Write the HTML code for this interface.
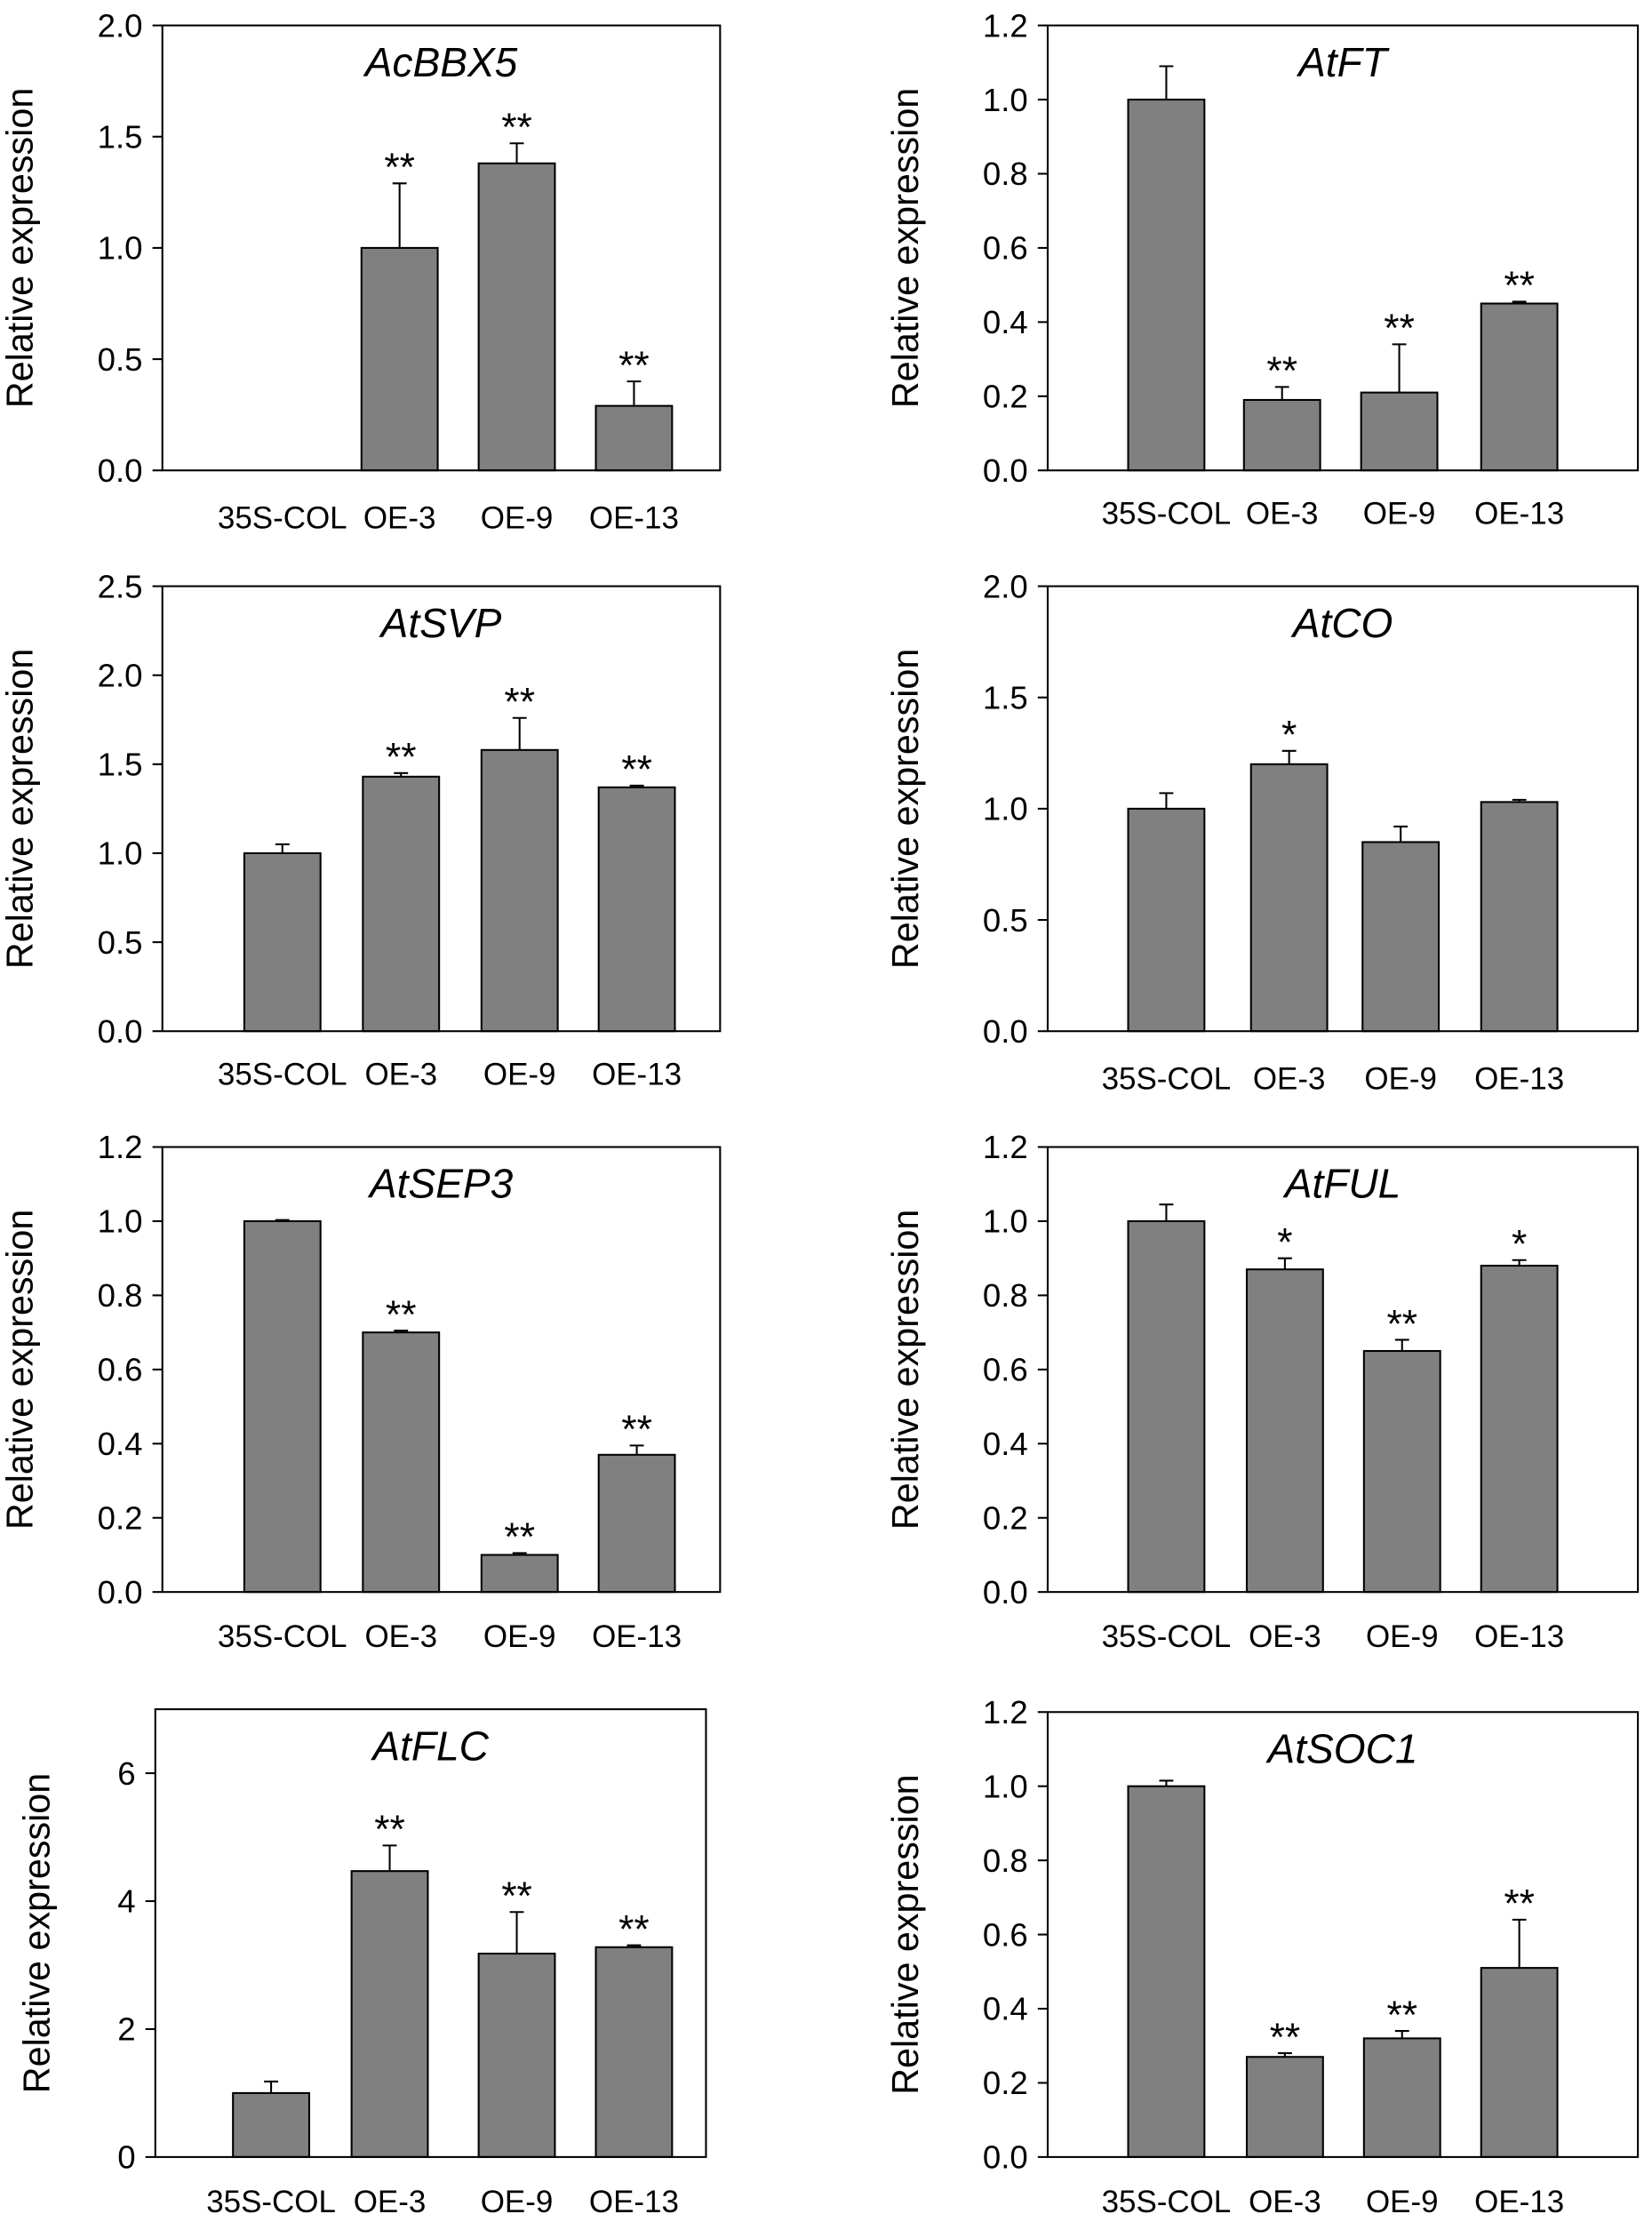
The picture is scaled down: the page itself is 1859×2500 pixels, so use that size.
<!DOCTYPE html>
<html><head><meta charset="utf-8">
<style>
html,body{margin:0;padding:0;background:#fff;}
svg{display:block;font-family:"Liberation Sans",Arial,sans-serif;}
</style></head>
<body>
<svg id="fig" width="1859" height="2500" viewBox="0 0 1170 1573" preserveAspectRatio="none" xmlns="http://www.w3.org/2000/svg"></svg>
<script>
const categories = ['35S-COL','OE-3','OE-9','OE-13'];
const titles = ['AcBBX5','AtFT','AtSVP','AtCO','AtSEP3','AtFUL','AtFLC','AtSOC1'];
const valsAcBBX5 = [0, 1.0, 1.38, 0.29];
const errAcBBX5 = [0, 0.29, 0.09, 0.11];
const starAcBBX5 = ['', '**', '**', '**'];
const valsAtFT = [1.0, 0.19, 0.21, 0.45];
const errAtFT = [0.09, 0.035, 0.13, 0.005];
const starAtFT = ['', '**', '**', '**'];
const valsAtSVP = [1.0, 1.43, 1.58, 1.37];
const errAtSVP = [0.05, 0.02, 0.18, 0.01];
const starAtSVP = ['', '**', '**', '**'];
const valsAtCO = [1.0, 1.2, 0.85, 1.03];
const errAtCO = [0.07, 0.06, 0.07, 0.01];
const starAtCO = ['', '*', '', ''];
const valsAtSEP3 = [1.0, 0.70, 0.10, 0.37];
const errAtSEP3 = [0.003, 0.005, 0.005, 0.025];
const starAtSEP3 = ['', '**', '**', '**'];
const valsAtFUL = [1.0, 0.87, 0.65, 0.88];
const errAtFUL = [0.045, 0.03, 0.03, 0.015];
const starAtFUL = ['', '*', '**', '*'];
const valsAtFLC = [1.0, 4.47, 3.18, 3.28];
const errAtFLC = [0.18, 0.4, 0.65, 0.03];
const starAtFLC = ['', '**', '**', '**'];
const valsAtSOC1 = [1.0, 0.27, 0.32, 0.51];
const errAtSOC1 = [0.015, 0.01, 0.02, 0.13];
const starAtSOC1 = ['', '**', '**', '**'];
const ticksA = ['0.0','0.5','1.0','1.5','2.0'];
const ticksB = ['0.0','0.2','0.4','0.6','0.8','1.0','1.2'];
const ticksC = ['0.0','0.5','1.0','1.5','2.0','2.5'];
const ticksD = ['0','2','4','6'];

const vals = [valsAcBBX5,valsAtFT,valsAtSVP,valsAtCO,valsAtSEP3,valsAtFUL,valsAtFLC,valsAtSOC1];
const errs = [errAcBBX5,errAtFT,errAtSVP,errAtCO,errAtSEP3,errAtFUL,errAtFLC,errAtSOC1];
const stars = [starAcBBX5,starAtFT,starAtSVP,starAtCO,starAtSEP3,starAtFUL,starAtFLC,starAtSOC1];
const ticks = [ticksA,ticksB,ticksC,ticksA,ticksB,ticksB,ticksD,ticksB];
const ymax = [2.0,1.2,2.5,2.0,1.2,1.2,7.0,1.2];
const boxes = [
 {x0:115,x1:510,y0:18,y1:333,cx:[200,283,366,449],ly:366},
 {x0:742,x1:1160,y0:18,y1:333,cx:[826,908,991,1076],ly:363},
 {x0:115,x1:510,y0:415,y1:730,cx:[200,284,368,451],ly:760},
 {x0:742,x1:1160,y0:415,y1:730,cx:[826,913,992,1076],ly:763},
 {x0:115,x1:510,y0:812,y1:1127,cx:[200,284,368,451],ly:1158},
 {x0:742,x1:1160,y0:812,y1:1127,cx:[826,910,993,1076],ly:1158},
 {x0:110,x1:500,y0:1210,y1:1527,cx:[192,276,366,449],ly:1558},
 {x0:742,x1:1160,y0:1212,y1:1527,cx:[826,910,993,1076],ly:1558}
];
const NS='http://www.w3.org/2000/svg';
const svg=document.getElementById('fig');
function mk(tag,attrs,parent){const e=document.createElementNS(NS,tag);for(const k in attrs)e.setAttribute(k,attrs[k]);(parent||svg).appendChild(e);return e;}
boxes.forEach((b,p)=>{
  const g=mk('g',{});
  
  
  const y=v=>b.y1-(v/ymax[p])*(b.y1-b.y0);
  const bw=54;
  vals[p].forEach((v,i)=>{
    if(v>0){
      const r=mk('rect',{x:b.cx[i]-bw/2,y:y(v),width:bw,height:b.y1-y(v),fill:'#808080',stroke:'#000','stroke-width':1.3},g);
      
      
      const e=errs[p][i];
      const el=mk('path',{d:`M${b.cx[i]} ${y(v+e)}V${y(v)}M${b.cx[i]-5} ${y(v+e)}H${b.cx[i]+5}`,stroke:'#000','stroke-width':1.3,fill:'none'},g);
      
      
      if(stars[p][i]){
        const s=mk('text',{x:b.cx[i],y:y(v+e)-2,'text-anchor':'middle','font-size':28},g);
        s.textContent=stars[p][i];
        
        
      }
    }
    const l=mk('text',{x:b.cx[i],y:b.ly+8,'text-anchor':'middle','font-size':22},g);
    l.textContent=categories[i];
    
    
  });
  const frame=mk('rect',{x:b.x0,y:b.y0,width:b.x1-b.x0,height:b.y1-b.y0,fill:'none',stroke:'#000','stroke-width':1.3},g);
  
  
  ticks[p].forEach(t=>{
    const ty=y(parseFloat(t));
    mk('line',{x1:b.x0-7,x2:b.x0,y1:ty,y2:ty,stroke:'#000','stroke-width':1.3},g);
    const tl=mk('text',{x:b.x0-14,y:ty+8,'text-anchor':'end','font-size':23},g);
    tl.textContent=t;
    
    
  });
  const tt=mk('text',{x:(b.x0+b.x1)/2,y:b.y0+36,'text-anchor':'middle','font-size':29,'font-style':'italic'},g);
  tt.textContent=titles[p];
  
  
  const yc=(b.y0+b.y1)/2, yx=b.x0-(p===6?75:92);
  const yt=mk('text',{x:yx,y:yc,'text-anchor':'middle','font-size':26,transform:`rotate(-90 ${yx} ${yc})`},g);
  yt.textContent='Relative expression';
  
  
});
</script>
</body></html>
